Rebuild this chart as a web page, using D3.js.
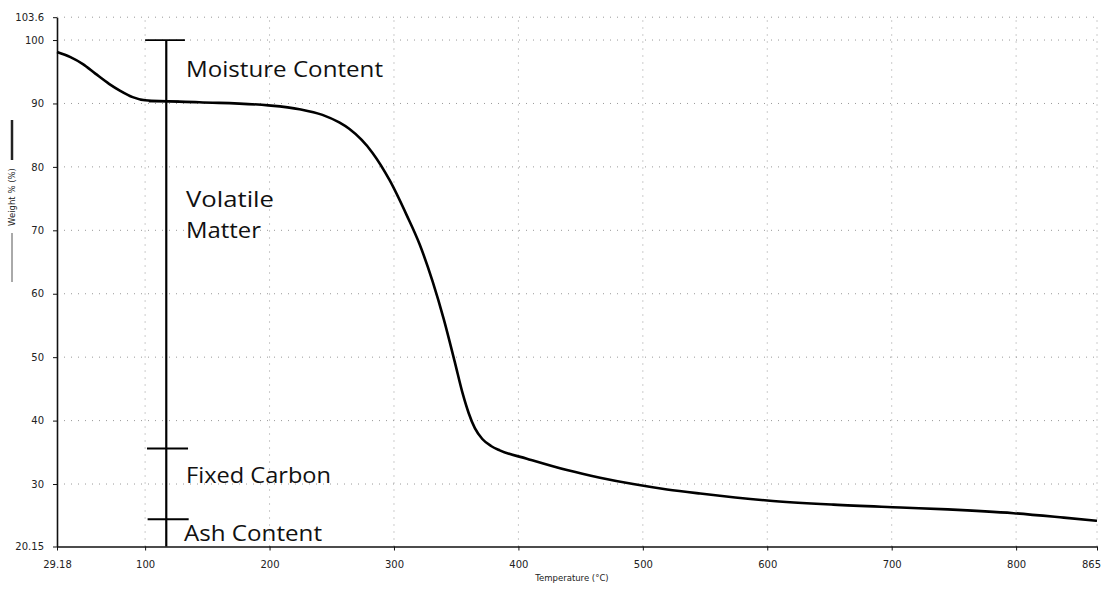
<!DOCTYPE html>
<html lang="en">
<head>
<meta charset="UTF-8">
<title>TGA weight loss curve</title>
<script src="https://d3js.org/d3.v7.min.js"></script>
<style>
  body { margin: 0; background: #fff; }
  .axis path, .axis line { stroke: #111; }
  .axis path { stroke-width: 1.6; }
  .axis text { font-family: "DejaVu Sans", sans-serif; font-size: 10px; fill: #222; }
  .grid line { stroke: #999; stroke-width: 1; stroke-dasharray: 1,6; }
  .note { font-family: "Open Sans", sans-serif; font-size: 22px; fill: #111; }
  .title { font-family: "DejaVu Sans", sans-serif; font-size: 8.5px; fill: #222; }
</style>
</head>
<body>
<svg id="chart" width="1116" height="591"></svg>
<script>
// values
const temperature = [29.18, 40, 50, 60, 71, 80, 90, 100, 143.5, 199, 224, 242.5, 256, 264,
  282.8, 296.5, 310.2, 320.6, 331.1, 340, 348.8, 355.3, 360, 365, 371, 378, 385,
  406.8, 439, 465.6, 492.2, 519.5, 546.1, 600, 653.2, 707.1, 745, 798, 838.3, 865];
const weight = [98.1, 97.3, 96.2, 94.7, 93.1, 92.0, 91.0, 90.5, 90.2, 89.7, 89.1, 88.2, 87.0, 86.0,
  82.2, 77.9, 72.4, 67.8, 61.9, 56.0, 49.3, 44.2, 41.2, 38.8, 37.1, 36.0, 35.3,
  34.0, 32.2, 31.0, 30.0, 29.15, 28.5, 27.4, 26.75, 26.3, 26.0, 25.4, 24.7, 24.2];

const xTicks = [29.18, 100, 200, 300, 400, 500, 600, 700, 800, 865];
const yTicks = [20.15, 30, 40, 50, 60, 70, 80, 90, 100, 103.6];

// proximate analysis bracket
const stageNames = ["Moisture Content", "Volatile", "Matter", "Fixed Carbon", "Ash Content"];
const stageBounds = [100, 90.3, 35.6, 24.45];
const barTemp = 117;
const capFrom = [100, 103, 101.5, 102];
const capTo = [132, 127, 134.5, 135];

const svg = d3.select("#chart");

const x = d3.scaleLinear().domain([29.18, 865]).range([57, 1097]);
const y = d3.scaleLinear().domain([20.15, 103.6]).range([546.5, 17.2]);

// grid
const grid = svg.append("g").attr("class", "grid");
grid.selectAll(".h").data(yTicks.slice(1)).enter().append("line")
    .attr("x1", x.range()[0]).attr("x2", x.range()[1])
    .attr("y1", d => y(d)).attr("y2", d => y(d));
grid.selectAll(".v").data(xTicks.slice(1)).enter().append("line")
    .attr("y1", y.range()[0]).attr("y2", y.range()[1])
    .attr("x1", d => x(d)).attr("x2", d => x(d));

// axes
svg.append("g")
    .attr("class", "axis")
    .attr("transform", `translate(${x.range()[0]},0)`)
    .call(d3.axisLeft(y).tickValues(yTicks).tickSize(4).tickSizeOuter(0).tickPadding(9).tickFormat(d => d));

const xAxis = svg.append("g")
    .attr("class", "axis")
    .attr("transform", `translate(0,${y.range()[0]})`)
    .call(d3.axisBottom(x).tickValues(xTicks).tickSize(4).tickSizeOuter(0).tickPadding(10).tickFormat(d => d));
xAxis.selectAll(".tick text").filter(d => d === 865).attr("dx", -6);

// axis titles
svg.append("text")
    .attr("class", "title")
    .attr("x", 572).attr("y", 581)
    .attr("text-anchor", "middle")
    .text("Temperature (°C)");

svg.append("text")
    .attr("class", "title")
    .attr("transform", "translate(15,197) rotate(-90)")
    .attr("text-anchor", "middle")
    .text("Weight % (%)");
svg.append("line").attr("x1", 12).attr("x2", 12).attr("y1", 120).attr("y2", 160)
    .attr("stroke", "#222").attr("stroke-width", 2.5);
svg.append("line").attr("x1", 12).attr("x2", 12).attr("y1", 233).attr("y2", 282)
    .attr("stroke", "#555").attr("stroke-width", 1);

// curve
const line = d3.line()
    .x((d, i) => x(temperature[i]))
    .y(d => y(d))
    .curve(d3.curveMonotoneX);

svg.append("path")
    .datum(weight)
    .attr("fill", "none")
    .attr("stroke", "#000")
    .attr("stroke-width", 2.6)
    .attr("stroke-linejoin", "round")
    .attr("d", line);

// bracket
svg.append("line")
    .attr("x1", x(barTemp)).attr("x2", x(barTemp))
    .attr("y1", y(stageBounds[0])).attr("y2", y.range()[0])
    .attr("stroke", "#000").attr("stroke-width", 2.2);

svg.selectAll(".cap").data(stageBounds).enter().append("line")
    .attr("x1", (d, i) => x(capFrom[i])).attr("x2", (d, i) => x(capTo[i]))
    .attr("y1", d => y(d)).attr("y2", d => y(d))
    .attr("stroke", "#000").attr("stroke-width", 1.8);

const labelY = [77, 207, 238, 483, 541];
const labelW = [197, 88, 75, 145, 138];
svg.selectAll(".note").data(stageNames).enter().append("text")
    .attr("class", "note")
    .attr("x", (d, i) => i === 4 ? 184 : 186)
    .attr("y", (d, i) => labelY[i])
    .attr("textLength", (d, i) => labelW[i])
    .attr("lengthAdjust", "spacingAndGlyphs")
    .text(d => d);
</script>
</body>
</html>
